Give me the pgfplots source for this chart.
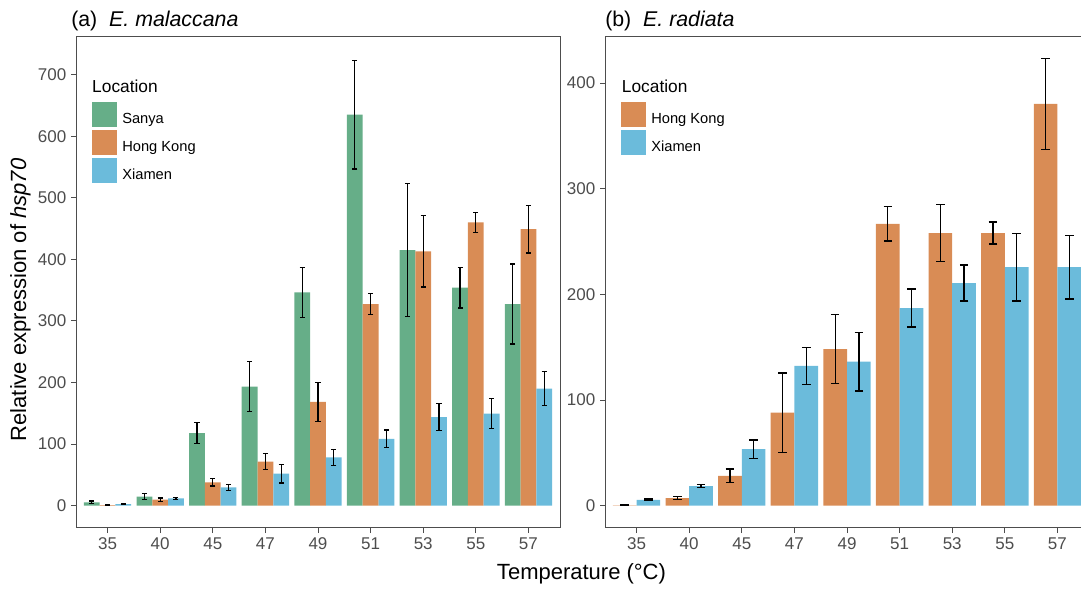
\documentclass[border=0pt]{standalone}
\usepackage{pgfplots}
\pgfplotsset{compat=1.18}
\usepackage{fontspec}
\setmainfont{Liberation Sans}

\definecolor{sanya}{HTML}{66AE88}
\definecolor{hongkong}{HTML}{D98C55}
\definecolor{xiamen}{HTML}{6BBBDB}
\definecolor{axgrey}{HTML}{4D4D4D}

\pgfplotsset{
  panel/.style={
    scale only axis,
    width=363pt, height=368.25pt,
    xmin=-0.6, xmax=8.6,
    xtick={0,...,8},
    xticklabels={35,40,45,47,49,51,53,55,57},
    tick pos=left,
    tick align=outside,
    major tick length=3.75pt,
    tick style={axgrey, line width=0.75pt},
    axis line style={axgrey, line width=0.75pt},
    ticklabel style={font=\fontsize{12.75}{14}\selectfont, text=axgrey},
    /pgf/number format/assume math mode=true,
    legend style={at={(0.033,0.868)}, anchor=north west, draw=none, fill=none,
      inner sep=0pt, outer sep=0pt, row sep=2.25pt, column sep=4pt,
      font=\fontsize{11}{13}\selectfont,
      nodes={inner sep=0pt}},
    legend cell align=left,
    legend image code/.code={\fill[##1] (0pt,-5.4pt) rectangle (18.75pt,13.35pt);},
  },
  errs/.style={
    error bars/.cd, y dir=both, y explicit,
    error mark=|,
    error bar style={black, line width=1pt},
    error mark options={black, line width=1pt, mark size=#1},
  },
}

\begin{document}
\begin{tikzpicture}
\path[use as bounding box] (0,0) rectangle (810.75pt,441.75pt);

% (a) E. malaccana: x = category index, offset by the dodge position
\begin{axis}[panel, at={(57pt,45.75pt)}, anchor=south west,
    ymin=-36.25, ymax=761.25, ytick={0,100,...,700}]
  \addplot[ybar, bar width=0.3, bar shift=0, fill=sanya, draw=none, errs=1.9pt]
    coordinates {
      (-0.3,5.4) +- (0,2)
      (0.7,14.6) +- (0,5)
      (1.7,117.8) +- (0,17)
      (2.7,193.5) +- (0,41)
      (3.7,346.3) +- (0,41)
      (4.7,635) +- (0,88)
      (5.7,415) +- (0,108)
      (6.7,354) +- (0,33)
      (7.7,327.4) +- (0,65)
    };
  \addlegendentry{Sanya}
  \addplot[ybar, bar width=0.3, bar shift=0, fill=hongkong, draw=none, errs=1.9pt]
    coordinates {
      (0,0.8) +- (0,0.5)
      (1,9.7) +- (0,2.7)
      (2,37.8) +- (0,6)
      (3,71.4) +- (0,13)
      (4,168.6) +- (0,31.6)
      (5,327.4) +- (0,17)
      (6,413) +- (0,58)
      (7,460) +- (0,16.5)
      (8,449) +- (0,38.6)
    };
  \addlegendentry{Hong Kong}
  \addplot[ybar, bar width=0.3, bar shift=0, fill=xiamen, draw=none, errs=1.9pt]
    coordinates {
      (0.3,2.7) +- (0,1)
      (1.3,11.9) +- (0,1.6)
      (2.3,29.7) +- (0,4.6)
      (3.3,51.9) +- (0,15)
      (4.3,78.4) +- (0,13)
      (5.3,108.6) +- (0,14.3)
      (6.3,143.8) +- (0,21.7)
      (7.3,149.7) +- (0,24.3)
      (8.3,190.3) +- (0,27.3)
    };
  \addlegendentry{Xiamen}
  \node[anchor=base west, font=\fontsize{13}{15}\selectfont, inner sep=0pt]
    at (axis description cs:0.033,0.8866) {Location};
\end{axis}

% (b) E. radiata
\begin{axis}[panel, at={(453.75pt,45.75pt)}, anchor=south west,
    ymin=-21.1, ymax=443.6, ytick={0,100,...,400}]
  \addplot[ybar, bar width=0.45, bar shift=0, fill=hongkong, draw=none, errs=3.2pt]
    coordinates {
      (-0.225,0.3) +- (0,0.3)
      (0.775,7.2) +- (0,1.4)
      (1.775,28.3) +- (0,6.3)
      (2.775,88) +- (0,37.5)
      (3.775,148.3) +- (0,32.7)
      (4.775,266.8) +- (0,16.2)
      (5.775,258) +- (0,27)
      (6.775,258) +- (0,10.4)
      (7.775,380.2) +- (0,43.3)
    };
  \addlegendentry{Hong Kong}
  \addplot[ybar, bar width=0.45, bar shift=0, fill=xiamen, draw=none, errs=3.2pt]
    coordinates {
      (0.225,5.5) +- (0,0.8)
      (1.225,18.6) +- (0,1.6)
      (2.225,53.5) +- (0,8.8)
      (3.225,132.3) +- (0,17.4)
      (4.225,136.4) +- (0,27.7)
      (5.225,187) +- (0,18)
      (6.225,210.7) +- (0,17)
      (7.225,225.8) +- (0,32)
      (8.225,225.8) +- (0,30.2)
    };
  \addlegendentry{Xiamen}
  \node[anchor=base west, font=\fontsize{13}{15}\selectfont, inner sep=0pt]
    at (axis description cs:0.0345,0.8866) {Location};
\end{axis}

% titles and shared axis labels
\node[anchor=base west, font=\fontsize{16}{19}\selectfont, inner sep=0pt]
  at (53.25pt,421.7pt) {(a)\ \ \textit{E. malaccana}};
\node[anchor=base west, font=\fontsize{16}{19}\selectfont, inner sep=0pt]
  at (453.75pt,421.7pt) {(b)\ \ \textit{E. radiata}};
\node[anchor=base, font=\fontsize{16.5}{19}\selectfont, inner sep=0pt]
  at (436.1pt,7.1pt) {Temperature (°C)};
\node[rotate=90, anchor=base, font=\fontsize{16.5}{19}\selectfont, inner sep=0pt]
  at (19.5pt,216.75pt) {Relative expression of \textit{hsp70}};
\end{tikzpicture}
\end{document}
